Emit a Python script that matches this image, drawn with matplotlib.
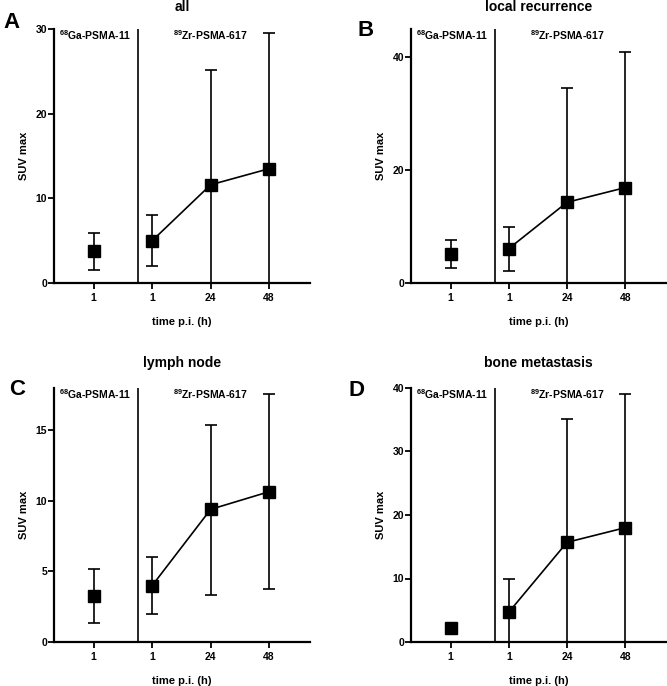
import matplotlib
matplotlib.use('Agg')
import matplotlib.pyplot as plt

plt.rcParams['font.family'] = ['Liberation Sans', 'DejaVu Sans']
plt.rcParams['font.weight'] = 'bold'
plt.rcParams['mathtext.fontset'] = 'custom'
plt.rcParams['mathtext.rm'] = 'Liberation Sans:bold'
plt.rcParams['mathtext.bf'] = 'Liberation Sans:bold'

# data (SUV max, mean with range)
tick_labels = ['1', '1', '24', '48']
titles = ['all', 'local recurrence', 'lymph node', 'bone metastasis']
letters = ['A', 'B', 'C', 'D']
ylims = [30, 45, 18, 40]
yticks = [[0, 10, 20, 30], [0, 20, 40], [0, 5, 10, 15], [0, 10, 20, 30, 40]]

ga_mean = [3.8, 5.1, 3.25, 2.25]
ga_low = [1.55, 2.7, 1.35, 2.0]
ga_high = [5.95, 7.55, 5.15, 2.5]

zr_mean = [[5.0, 11.6, 13.5],
           [6.1, 14.3, 16.9],
           [4.0, 9.4, 10.65],
           [4.7, 15.7, 18.0]]
zr_low = [[2.0, 0.0, 0.0],
          [2.05, 0.0, 0.0],
          [2.0, 3.35, 3.75],
          [0.0, 0.0, 0.0]]
zr_high = [[8.0, 25.2, 29.5],
           [10.0, 34.5, 41.0],
           [6.0, 15.4, 17.6],
           [10.0, 35.1, 39.0]]

W, H = 667, 686
fig = plt.figure(figsize=(W / 100, H / 100), dpi=100)

# axes boxes in pixels: left, top, right, bottom
boxes = [(54, 29, 310, 283), (411, 29, 666, 283),
         (54, 388, 310, 642), (411, 388, 666, 642)]
letter_pos = [(12, 23), (366, 30), (17, 389), (356, 390)]
title_base = [11, 11, 367, 367]

for i in range(4):
    l, t, r, b = boxes[i]
    ax = fig.add_axes([l / W, 1 - b / H, (r - l) / W, (b - t) / H])
    # 68Ga point, separate
    ax.errorbar([0], [ga_mean[i]],
                yerr=[[ga_mean[i] - ga_low[i]], [ga_high[i] - ga_mean[i]]],
                fmt='s', color='black', ms=9, capsize=4.5, elinewidth=1.2,
                capthick=1.2, clip_on=False, zorder=3)
    # 89Zr points, connected
    zx = [1, 2, 3]
    yerr = [[m - lo for m, lo in zip(zr_mean[i], zr_low[i])],
            [hi - m for m, hi in zip(zr_mean[i], zr_high[i])]]
    ax.errorbar(zx, zr_mean[i], yerr=yerr, fmt='-s', color='black', ms=9,
                lw=1.2, capsize=4.5, elinewidth=1.2, capthick=1.2,
                clip_on=False, zorder=3)
    ax.axvline(0.76, color='black', lw=1.2)

    ax.set_xlim(-0.68, 3.7)
    ax.set_ylim(0, ylims[i])
    ax.set_xticks([0, 1, 2, 3])
    ax.set_xticklabels(tick_labels)
    ax.set_yticks(yticks[i])
    ax.tick_params(labelsize=7.5, width=1.3, length=4)
    ax.tick_params(axis='x', pad=3)
    ax.tick_params(axis='y', pad=1)
    for s in ['top', 'right']:
        ax.spines[s].set_visible(False)
    for s in ['left', 'bottom']:
        ax.spines[s].set_linewidth(1.6)

    ax.set_ylabel('SUV max', fontsize=8, fontweight='bold', labelpad=5)
    ax.set_xlabel('time p.i. (h)', fontsize=8, fontweight='bold', labelpad=10)
    fig.text((l + r) / 2 / W, 1 - title_base[i] / H, titles[i], fontsize=10,
             fontweight='bold', ha='center', va='baseline')

    ax.text(0.02, 1.005, r'$^{68}$Ga-PSMA-11', transform=ax.transAxes,
            ha='left', va='top', fontsize=7.5, fontweight='bold')
    ax.text(2, ylims[i] * 1.005, r'$^{89}$Zr-PSMA-617',
            ha='center', va='top', fontsize=7.5, fontweight='bold')

    lx, ly = letter_pos[i]
    fig.text(lx / W, 1 - ly / H, letters[i], fontsize=16,
             fontweight='bold', ha='center', va='center')

fig.savefig('out.png', dpi=100)
